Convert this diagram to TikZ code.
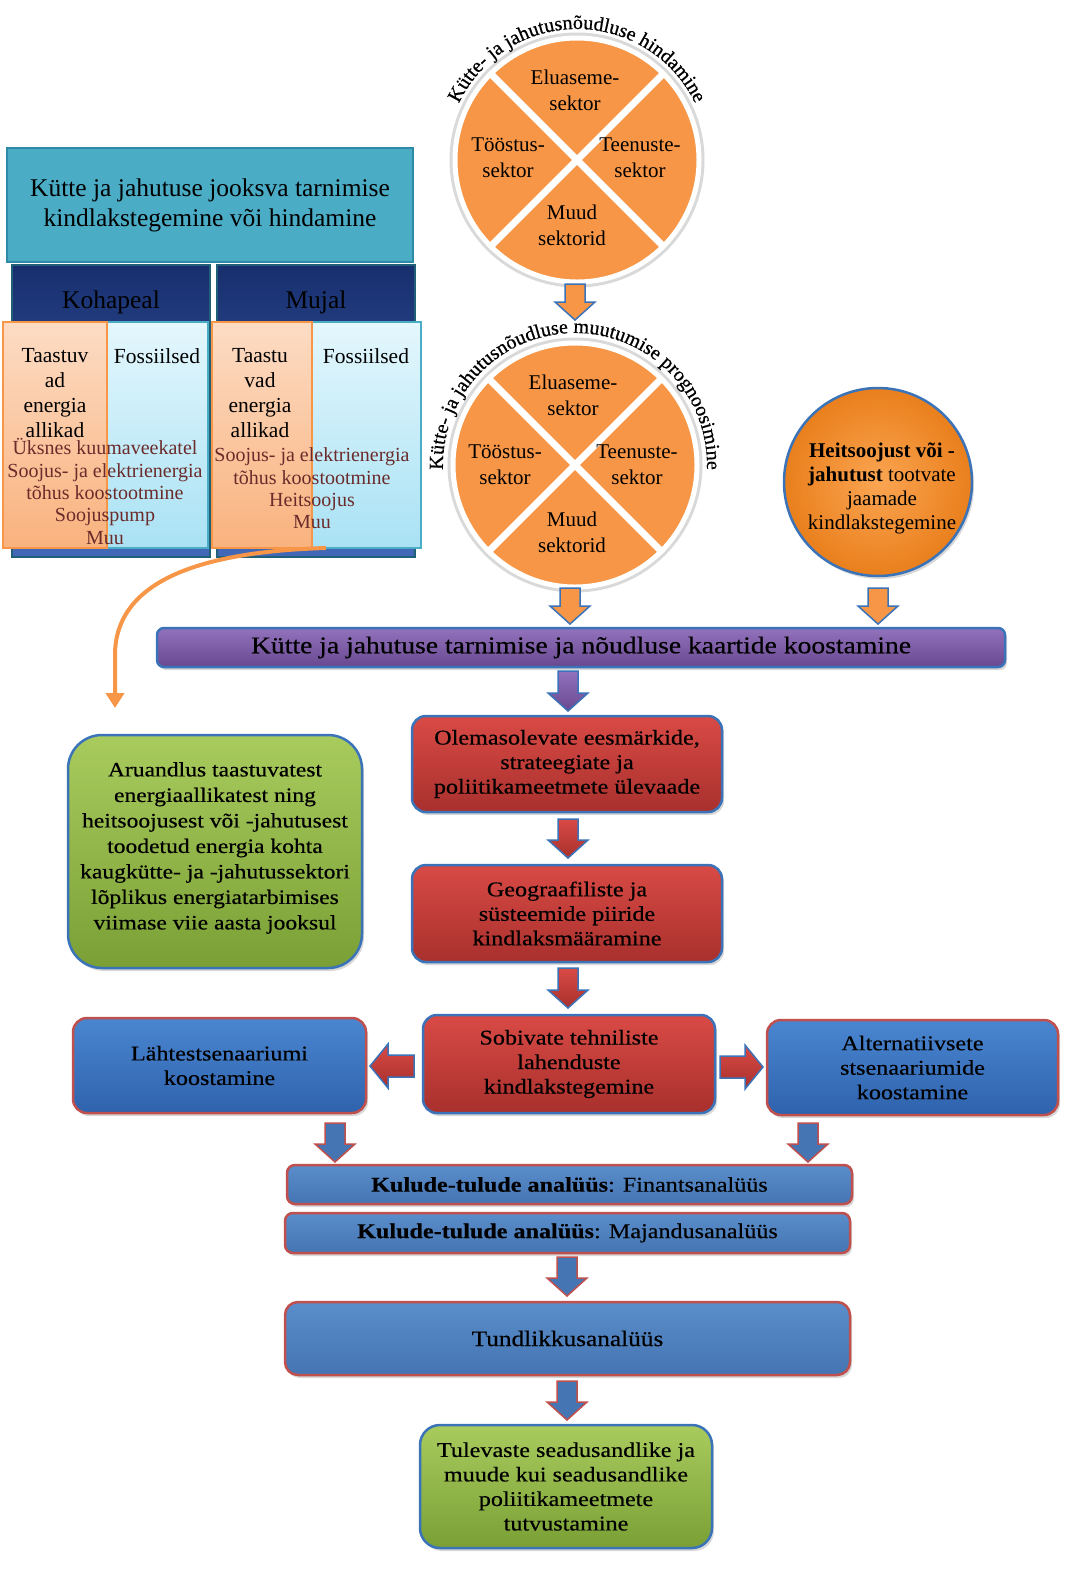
\documentclass[tikz,border=0pt]{standalone}
\usepackage{fontspec}
\setmainfont{Liberation Serif}
\newfontfamily\camb{Liberation Serif}[FakeStretch=1.15,FakeBold=0.4]
\newfontfamily\arcf{Liberation Serif}[FakeBold=0.6]
\usetikzlibrary{shadows,decorations.text,calc,arrows.meta}
\definecolor{teal1}{HTML}{4BACC6}
\definecolor{teal2}{HTML}{2E8AA6}
\definecolor{navy1}{HTML}{182F6E}
\definecolor{navy2}{HTML}{4169B8}
\definecolor{navybord}{HTML}{1F5F78}
\definecolor{peach1}{HTML}{FDDCC4}
\definecolor{peach2}{HTML}{F9B27E}
\definecolor{orbord}{HTML}{F79646}
\definecolor{lblue1}{HTML}{E4F7FD}
\definecolor{lblue2}{HTML}{A9E2F4}
\definecolor{ovtext}{HTML}{6B2B2B}
\definecolor{orfill}{HTML}{F79646}
\definecolor{bordblue}{HTML}{3B73B9}
\definecolor{redb1}{HTML}{D94A45}
\definecolor{redb2}{HTML}{A8302D}
\definecolor{blub1}{HTML}{4A86D0}
\definecolor{blub2}{HTML}{2F62AD}
\definecolor{redbord}{HTML}{C0504D}
\definecolor{kblue1}{HTML}{5A8DCB}
\definecolor{kblue2}{HTML}{4575B2}
\definecolor{green1}{HTML}{A9CB5E}
\definecolor{green2}{HTML}{7AA035}
\definecolor{purp1}{HTML}{9272BC}
\definecolor{purp2}{HTML}{68488F}
\definecolor{heat1}{HTML}{FBA552}
\definecolor{heat2}{HTML}{E97F1C}
\newcommand\arrdown[4]{\path[#4] (#1-10,#2) -- (#1+10,#2) -- (#1+10,#3-18) -- (#1+20,#3-18) -- (#1,#3) -- (#1-20,#3-18) -- (#1-10,#3-18) -- cycle;}
\newcommand\arrleft[4]{\path[#4] (#1,#3-11) -- (#2+18,#3-11) -- (#2+18,#3-22) -- (#2,#3) -- (#2+18,#3+22) -- (#2+18,#3+11) -- (#1,#3+11) -- cycle;}
\newcommand\arrright[4]{\path[#4] (#1,#3-11) -- (#2-18,#3-11) -- (#2-18,#3-22) -- (#2,#3) -- (#2-18,#3+22) -- (#2-18,#3+11) -- (#1,#3+11) -- cycle;}
\tikzset{
  hdrfont/.style={font=\fontsize{25.5}{30}\selectfont},
  colfont/.style={font=\fontsize{21.5}{25}\selectfont},
  ovfont/.style={font=\fontsize{20}{22.3}\selectfont, text=ovtext, align=center},
  secfont/.style={font=\fontsize{21}{26}\selectfont, align=center},
  boxfont/.style={font=\camb\fontsize{21}{24.5}\selectfont},
  shad/.style={drop shadow={opacity=0.3, shadow xshift=2pt, shadow yshift=-3pt}},
  hdrbox/.style={rectangle, draw=teal2, line width=2.5, fill=teal1, minimum width=406, minimum height=114, align=center, hdrfont, inner sep=0},
  navybox/.style={rectangle, draw=navybord, line width=2, top color=navy1, bottom color=navy2, minimum width=198, minimum height=292, inner sep=0},
  orcol/.style={rectangle, draw=orbord, line width=1.5, top color=peach1, bottom color=peach2, minimum height=226, inner sep=0},
  bluecol/.style={rectangle, draw=teal1, line width=1.5, top color=lblue1, bottom color=lblue2, minimum height=226, inner sep=0},
  sectcirc/.style={circle, minimum size=244, fill=orfill, draw=white, line width=5, inner sep=0, preaction={draw=black!15, line width=11}},
  divline/.style={white, line width=7},
  heatcirc/.style={circle, minimum size=188, inner color=heat1, outer color=heat2, draw=bordblue, line width=2.5, inner sep=0, shad},
  redbox/.style={rectangle, rounded corners=14, draw=bordblue, line width=2.5, top color=redb1, bottom color=redb2, align=center, boxfont, inner sep=0, shad},
  bluebox/.style={rectangle, rounded corners=14, draw=redbord, line width=2.5, top color=blub1, bottom color=blub2, align=center, boxfont, inner sep=0, shad},
  kbox/.style={rectangle, rounded corners=8, draw=redbord, line width=2.5, top color=kblue1, bottom color=kblue2, align=center, boxfont, inner sep=0, shad},
  greenbox/.style={rectangle, draw=bordblue, line width=2.5, top color=green1, bottom color=green2, align=center, boxfont, inner sep=0, shad},
  purbox/.style={rectangle, rounded corners=7, draw=bordblue, line width=2.5, top color=purp1, bottom color=purp2, inner sep=0, shad, font=\camb\fontsize{24}{28}\selectfont},
  orarrow/.style={fill=orfill, draw=bordblue, line width=1.5},
  purarrow/.style={top color=purp1, bottom color=purp2, draw=bordblue, line width=1.5},
  redarrow/.style={top color=redb1, bottom color=redb2, draw=bordblue, line width=1.5},
  bluarrow/.style={fill=kblue2, draw=redbord, line width=1.5},
  orconn/.style={draw=orfill, line width=4, -{Triangle[width=18pt,length=15pt]}}
}
\begin{document}
\begin{tikzpicture}[x=1pt,y=-1pt]
\useasboundingbox (0,0) rectangle (1076,1575);
\fill[white] (0,0) rectangle (1076,1575);

% ---------- top left block ----------
\node[hdrbox] (hdr) at (210,205) {Kütte ja jahutuse jooksva tarnimise\\kindlakstegemine või hindamine};
\node[navybox] (kohab) at (111,411) {};
\node[navybox] (mujb) at (316,411) {};
\node[hdrfont] (koht) at (111,302) {Kohapeal};
\node[hdrfont] (mujt) at (316,302) {Mujal};
\node[bluecol, minimum width=101] (b1) at (157.5,435) {};
\node[orcol, minimum width=104] (o1) at (55,435) {};
\node[bluecol, minimum width=109] (b2) at (366.5,435) {};
\node[orcol, minimum width=100] (o2) at (262,435) {};
\node[colfont, align=center] (o1t) at (55,393.5) {Taastuv\\ad\\energia\\allikad};
\node[colfont] (b1t) at (157,356) {Fossiilsed};
\node[colfont, align=center] (o2t) at (260,393.5) {Taastu\\vad\\energia\\allikad};
\node[colfont] (b2t) at (366,356) {Fossiilsed};
\node[ovfont] (ov1) at (105,491.5) {Üksnes kuumaveekatel\\Soojus- ja elektrienergia\\tõhus koostootmine\\Soojuspump\\Muu};
\node[ovfont] (ov2) at (312,488.5) {Soojus- ja elektrienergia\\tõhus koostootmine\\Heitsoojus\\Muu};

% ---------- circle 1 ----------
\node[sectcirc] (c1) at (577,160) {};
\draw[divline] (c1.45) -- (c1.225);
\draw[divline] (c1.135) -- (c1.315);
\node[secfont] (c1a) at (575,90) {Eluaseme-\\sektor};
\node[secfont] (c1b) at (508,158) {Tööstus-\\sektor};
\node[secfont] (c1c) at (640,158) {Teenuste-\\sektor};
\node[secfont] (c1d) at (572,225) {Muud\\sektorid};
\begin{scope}[shift={(c1.center)}, y=1pt]
\path[decorate, decoration={text along path, text align=center, text={|\arcf\fontsize{20}{20}\selectfont|Kütte- ja jahutusnõudluse hindamine}}] (158:131) arc[start angle=158, end angle=22, radius=131];
\end{scope}

% ---------- circle 2 ----------
\node[sectcirc] (c2) at (575,465) {};
\draw[divline] (c2.45) -- (c2.225);
\draw[divline] (c2.135) -- (c2.315);
\node[secfont] (c2a) at (573,395) {Eluaseme-\\sektor};
\node[secfont] (c2b) at (505,465) {Tööstus-\\sektor};
\node[secfont] (c2c) at (637,465) {Teenuste-\\sektor};
\node[secfont] (c2d) at (572,532) {Muud\\sektorid};
\begin{scope}[shift={(c2.center)}, y=1pt]
\path[decorate, decoration={text along path, text align=center, text={|\arcf\fontsize{20}{20}\selectfont|Kütte- ja jahutusnõudluse muutumise prognoosimine}}] (190:132) arc[start angle=190, end angle=-10, radius=132];
\end{scope}

% ---------- heat circle ----------
\node[heatcirc] (hc) at (878,482) {};
\node[font=\fontsize{21}{24}\selectfont, align=center] (hct) at (882,488) {\textbf{Heitsoojust või -}\\\textbf{jahutust} tootvate\\jaamade\\kindlakstegemine};

% ---------- arrows from circles ----------
\arrdown{575}{284}{320}{orarrow}
\arrdown{570}{588}{624}{orarrow}
\arrdown{878}{588}{624}{orarrow}

% ---------- map bar ----------
\node[purbox, minimum width=848, minimum height=39] (map) at (581,647.5) {Kütte ja jahutuse tarnimise ja nõudluse kaartide koostamine};
\arrdown{568}{671}{711}{purarrow}

% ---------- orange connector ----------
\coordinate (cs) at (326,548);
\coordinate (ce) at (115,708);
\draw[orconn] (cs) .. controls (185,552) and (115,588) .. (115,655) -- (ce);

% ---------- green left ----------
\node[greenbox, rounded corners=34, minimum width=294, minimum height=233] (gl) at (215,851.5) {};
\node[align=center, font=\camb\fontsize{20.5}{25.5}\selectfont] (glt) at (215,848) {Aruandlus taastuvatest\\energiaallikatest ning\\heitsoojusest või -jahutusest\\toodetud energia kohta\\kaugkütte- ja -jahutussektori\\lõplikus energiatarbimises\\viimase viie aasta jooksul};

% ---------- red column ----------
\node[redbox, minimum width=310, minimum height=96] (r1) at (567,764) {Olemasolevate eesmärkide,\\strateegiate ja\\poliitikameetmete ülevaade};
\arrdown{568}{819}{858}{redarrow}
\node[redbox, minimum width=310, minimum height=97] (r2) at (567,913.5) {Geograafiliste ja\\süsteemide piiride\\kindlaksmääramine};
\arrdown{568}{968}{1008}{redarrow}
\node[redbox, minimum width=292, minimum height=98] (r3) at (569,1064) {Sobivate tehniliste\\lahenduste\\kindlakstegemine};

% ---------- scenarios ----------
\node[bluebox, minimum width=293, minimum height=95] (bl) at (219.5,1065.5) {Lähtestsenaariumi\\koostamine};
\node[bluebox, minimum width=291, minimum height=95] (br) at (912.5,1067.5) {Alternatiivsete\\stsenaariumide\\koostamine};
\arrleft{414}{370}{1066}{redarrow}
\arrright{720}{763}{1067}{redarrow}
\arrdown{335}{1123}{1162}{bluarrow}
\arrdown{808}{1123}{1162}{bluarrow}

% ---------- analyses ----------
\node[kbox, minimum width=565, minimum height=39] (k1) at (569.5,1184.5) {\textbf{Kulude-tulude analüüs}: Finantsanalüüs};
\node[kbox, minimum width=565, minimum height=40] (k2) at (567.5,1233) {\textbf{Kulude-tulude analüüs}: Majandusanalüüs};
\arrdown{567}{1257}{1296}{bluarrow}
\node[kbox, rounded corners=13, minimum width=565, minimum height=73, font=\camb\fontsize{22}{26}\selectfont] (tu) at (567.5,1338.5) {Tundlikkusanalüüs};
\arrdown{567}{1381}{1420}{bluarrow}
\node[greenbox, rounded corners=20, minimum width=292, minimum height=123] (gb) at (566,1486.5) {Tulevaste seadusandlike ja\\muude kui seadusandlike\\poliitikameetmete\\tutvustamine};
\end{tikzpicture}
\end{document}
